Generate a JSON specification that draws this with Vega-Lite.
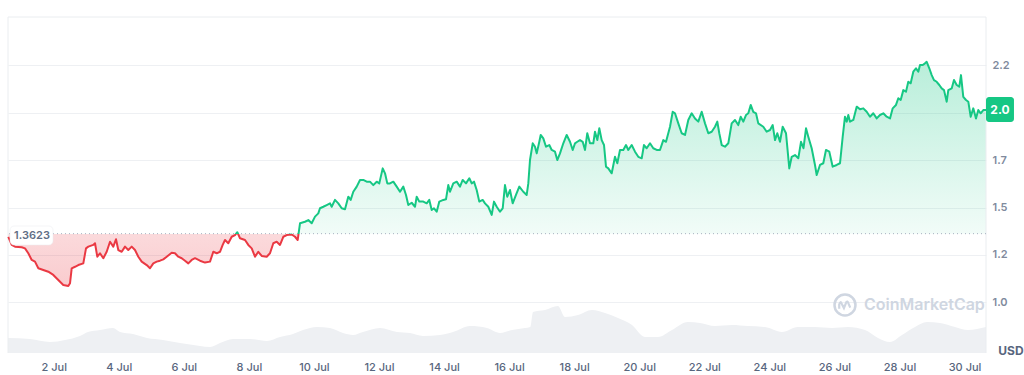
{
  "$schema": "https://vega.github.io/schema/vega-lite/v6.json",
  "width": 978,
  "height": 336,
  "autosize": {"type": "none"},
  "padding": {"left": 8, "top": 17, "right": 38, "bottom": 22},
  "background": "white",
  "config": {"view": {"stroke": null}, "font": "Inter"},
  "datasets": {
    "price": [
      {"d":0.604,"p":1.345},{"d":0.709,"p":1.303},{"d":0.810,"p":1.294},{"d":1.016,"p":1.291},{"d":1.118,"p":1.285},{"d":1.219,"p":1.259},{"d":1.324,"p":1.224},{"d":1.425,"p":1.215},{"d":1.527,"p":1.180},{"d":1.680,"p":1.171},{"d":1.834,"p":1.162},{"d":1.988,"p":1.145},{"d":2.141,"p":1.118},{"d":2.295,"p":1.092},{"d":2.449,"p":1.087},{"d":2.501,"p":1.101},{"d":2.553,"p":1.180},{"d":2.655,"p":1.188},{"d":2.756,"p":1.197},{"d":2.910,"p":1.206},{"d":2.993,"p":1.285},{"d":3.064,"p":1.294},{"d":3.217,"p":1.303},{"d":3.270,"p":1.312},{"d":3.340,"p":1.241},{"d":3.423,"p":1.259},{"d":3.525,"p":1.233},{"d":3.629,"p":1.267},{"d":3.731,"p":1.320},{"d":3.832,"p":1.294},{"d":3.915,"p":1.333},{"d":3.986,"p":1.276},{"d":4.090,"p":1.267},{"d":4.192,"p":1.294},{"d":4.293,"p":1.276},{"d":4.398,"p":1.294},{"d":4.499,"p":1.276},{"d":4.601,"p":1.241},{"d":4.705,"p":1.215},{"d":4.859,"p":1.197},{"d":4.960,"p":1.180},{"d":5.062,"p":1.206},{"d":5.166,"p":1.215},{"d":5.268,"p":1.220},{"d":5.369,"p":1.227},{"d":5.474,"p":1.241},{"d":5.627,"p":1.262},{"d":5.729,"p":1.259},{"d":5.830,"p":1.241},{"d":5.935,"p":1.233},{"d":6.036,"p":1.220},{"d":6.138,"p":1.206},{"d":6.242,"p":1.224},{"d":6.344,"p":1.233},{"d":6.497,"p":1.220},{"d":6.651,"p":1.210},{"d":6.805,"p":1.215},{"d":6.906,"p":1.267},{"d":7.011,"p":1.259},{"d":7.112,"p":1.267},{"d":7.195,"p":1.303},{"d":7.266,"p":1.329},{"d":7.367,"p":1.312},{"d":7.472,"p":1.346},{"d":7.573,"p":1.355},{"d":7.644,"p":1.370},{"d":7.727,"p":1.338},{"d":7.881,"p":1.329},{"d":7.982,"p":1.303},{"d":8.087,"p":1.285},{"d":8.188,"p":1.241},{"d":8.290,"p":1.267},{"d":8.394,"p":1.245},{"d":8.548,"p":1.241},{"d":8.649,"p":1.259},{"d":8.751,"p":1.312},{"d":8.855,"p":1.320},{"d":8.957,"p":1.303},{"d":9.058,"p":1.346},{"d":9.163,"p":1.355},{"d":9.316,"p":1.358},{"d":9.418,"p":1.346},{"d":9.501,"p":1.329},{"d":9.572,"p":1.417},{"d":9.725,"p":1.425},{"d":9.827,"p":1.434},{"d":9.931,"p":1.417},{"d":10.033,"p":1.452},{"d":10.134,"p":1.469},{"d":10.186,"p":1.496},{"d":10.288,"p":1.504},{"d":10.392,"p":1.513},{"d":10.494,"p":1.522},{"d":10.546,"p":1.504},{"d":10.647,"p":1.540},{"d":10.749,"p":1.522},{"d":10.853,"p":1.496},{"d":10.955,"p":1.491},{"d":11.056,"p":1.557},{"d":11.130,"p":1.540},{"d":11.210,"p":1.583},{"d":11.315,"p":1.610},{"d":11.416,"p":1.645},{"d":11.517,"p":1.645},{"d":11.622,"p":1.636},{"d":11.723,"p":1.636},{"d":11.825,"p":1.618},{"d":11.929,"p":1.636},{"d":12.009,"p":1.627},{"d":12.114,"p":1.706},{"d":12.185,"p":1.680},{"d":12.255,"p":1.627},{"d":12.338,"p":1.627},{"d":12.440,"p":1.636},{"d":12.544,"p":1.610},{"d":12.646,"p":1.583},{"d":12.747,"p":1.610},{"d":12.830,"p":1.566},{"d":12.901,"p":1.513},{"d":13.005,"p":1.525},{"d":13.107,"p":1.504},{"d":13.159,"p":1.557},{"d":13.239,"p":1.531},{"d":13.362,"p":1.531},{"d":13.466,"p":1.522},{"d":13.546,"p":1.540},{"d":13.620,"p":1.487},{"d":13.691,"p":1.496},{"d":13.774,"p":1.478},{"d":13.854,"p":1.531},{"d":13.977,"p":1.540},{"d":14.059,"p":1.543},{"d":14.130,"p":1.618},{"d":14.183,"p":1.583},{"d":14.284,"p":1.627},{"d":14.389,"p":1.636},{"d":14.490,"p":1.610},{"d":14.573,"p":1.645},{"d":14.675,"p":1.627},{"d":14.776,"p":1.654},{"d":14.850,"p":1.627},{"d":14.920,"p":1.636},{"d":15.003,"p":1.592},{"d":15.083,"p":1.531},{"d":15.187,"p":1.540},{"d":15.259,"p":1.522},{"d":15.360,"p":1.504},{"d":15.465,"p":1.461},{"d":15.535,"p":1.531},{"d":15.618,"p":1.504},{"d":15.720,"p":1.478},{"d":15.803,"p":1.496},{"d":15.873,"p":1.618},{"d":15.944,"p":1.557},{"d":16.027,"p":1.592},{"d":16.110,"p":1.522},{"d":16.211,"p":1.566},{"d":16.313,"p":1.610},{"d":16.436,"p":1.583},{"d":16.540,"p":1.566},{"d":16.590,"p":1.627},{"d":16.642,"p":1.750},{"d":16.725,"p":1.838},{"d":16.796,"p":1.820},{"d":16.848,"p":1.785},{"d":16.928,"p":1.846},{"d":16.971,"p":1.882},{"d":17.051,"p":1.864},{"d":17.134,"p":1.820},{"d":17.235,"p":1.829},{"d":17.309,"p":1.803},{"d":17.410,"p":1.794},{"d":17.481,"p":1.750},{"d":17.564,"p":1.785},{"d":17.666,"p":1.838},{"d":17.770,"p":1.882},{"d":17.872,"p":1.846},{"d":17.955,"p":1.803},{"d":18.025,"p":1.838},{"d":18.096,"p":1.846},{"d":18.179,"p":1.855},{"d":18.262,"p":1.846},{"d":18.333,"p":1.803},{"d":18.403,"p":1.891},{"d":18.486,"p":1.838},{"d":18.588,"p":1.838},{"d":18.640,"p":1.899},{"d":18.711,"p":1.855},{"d":18.772,"p":1.917},{"d":18.846,"p":1.855},{"d":18.917,"p":1.829},{"d":18.978,"p":1.715},{"d":19.049,"p":1.706},{"d":19.154,"p":1.680},{"d":19.255,"p":1.767},{"d":19.326,"p":1.733},{"d":19.409,"p":1.803},{"d":19.510,"p":1.803},{"d":19.593,"p":1.829},{"d":19.664,"p":1.803},{"d":19.768,"p":1.829},{"d":19.870,"p":1.794},{"d":19.971,"p":1.767},{"d":20.076,"p":1.759},{"d":20.146,"p":1.829},{"d":20.229,"p":1.812},{"d":20.331,"p":1.838},{"d":20.432,"p":1.812},{"d":20.537,"p":1.803},{"d":20.638,"p":1.803},{"d":20.740,"p":1.855},{"d":20.823,"p":1.846},{"d":20.946,"p":1.925},{"d":21.029,"p":2.004},{"d":21.099,"p":1.996},{"d":21.201,"p":1.943},{"d":21.305,"p":1.891},{"d":21.407,"p":1.882},{"d":21.508,"p":1.961},{"d":21.613,"p":1.996},{"d":21.714,"p":1.969},{"d":21.816,"p":1.952},{"d":21.920,"p":2.004},{"d":22.022,"p":1.943},{"d":22.123,"p":1.891},{"d":22.228,"p":1.899},{"d":22.329,"p":1.925},{"d":22.400,"p":1.952},{"d":22.461,"p":1.891},{"d":22.535,"p":1.829},{"d":22.636,"p":1.820},{"d":22.738,"p":1.838},{"d":22.842,"p":1.943},{"d":22.944,"p":1.961},{"d":23.045,"p":1.934},{"d":23.119,"p":1.978},{"d":23.199,"p":1.952},{"d":23.282,"p":1.987},{"d":23.353,"p":1.996},{"d":23.427,"p":2.040},{"d":23.506,"p":2.004},{"d":23.589,"p":1.996},{"d":23.660,"p":1.943},{"d":23.814,"p":1.925},{"d":23.918,"p":1.899},{"d":24.020,"p":1.908},{"d":24.103,"p":1.934},{"d":24.174,"p":1.855},{"d":24.244,"p":1.891},{"d":24.327,"p":1.846},{"d":24.410,"p":1.925},{"d":24.512,"p":1.891},{"d":24.613,"p":1.706},{"d":24.687,"p":1.767},{"d":24.788,"p":1.776},{"d":24.890,"p":1.759},{"d":24.973,"p":1.846},{"d":25.050,"p":1.812},{"d":25.127,"p":1.917},{"d":25.197,"p":1.873},{"d":25.301,"p":1.812},{"d":25.403,"p":1.724},{"d":25.455,"p":1.671},{"d":25.557,"p":1.724},{"d":25.658,"p":1.733},{"d":25.741,"p":1.803},{"d":25.843,"p":1.794},{"d":25.947,"p":1.715},{"d":26.070,"p":1.724},{"d":26.172,"p":1.733},{"d":26.255,"p":1.873},{"d":26.325,"p":1.978},{"d":26.378,"p":1.952},{"d":26.427,"p":1.987},{"d":26.479,"p":1.952},{"d":26.581,"p":1.961},{"d":26.685,"p":2.031},{"d":26.787,"p":2.017},{"d":26.888,"p":2.022},{"d":26.992,"p":2.004},{"d":27.094,"p":1.978},{"d":27.195,"p":1.996},{"d":27.300,"p":1.969},{"d":27.401,"p":1.987},{"d":27.503,"p":1.996},{"d":27.607,"p":1.978},{"d":27.709,"p":1.969},{"d":27.792,"p":2.022},{"d":27.893,"p":2.040},{"d":27.964,"p":2.075},{"d":28.038,"p":2.066},{"d":28.118,"p":2.118},{"d":28.201,"p":2.110},{"d":28.271,"p":2.162},{"d":28.345,"p":2.154},{"d":28.425,"p":2.215},{"d":28.508,"p":2.233},{"d":28.579,"p":2.215},{"d":28.631,"p":2.250},{"d":28.714,"p":2.250},{"d":28.785,"p":2.259},{"d":28.837,"p":2.267},{"d":28.917,"p":2.233},{"d":28.991,"p":2.197},{"d":29.061,"p":2.171},{"d":29.144,"p":2.162},{"d":29.224,"p":2.145},{"d":29.298,"p":2.127},{"d":29.369,"p":2.118},{"d":29.452,"p":2.057},{"d":29.501,"p":2.118},{"d":29.605,"p":2.127},{"d":29.676,"p":2.171},{"d":29.759,"p":2.145},{"d":29.839,"p":2.136},{"d":29.891,"p":2.197},{"d":29.962,"p":2.083},{"d":30.045,"p":2.066},{"d":30.116,"p":2.057},{"d":30.190,"p":1.978},{"d":30.269,"p":2.022},{"d":30.352,"p":1.969},{"d":30.423,"p":2.013},{"d":30.497,"p":1.996},{"d":30.577,"p":2.013},{"d":30.660,"p":2.013}
    ],
    "volume": [
      {"d":0.595,"vol":15},{"d":1.271,"vol":14},{"d":1.886,"vol":11},{"d":2.347,"vol":13},{"d":2.808,"vol":17},{"d":3.054,"vol":21},{"d":3.423,"vol":23},{"d":3.823,"vol":25},{"d":4.038,"vol":21},{"d":4.438,"vol":19},{"d":4.868,"vol":15},{"d":5.360,"vol":13},{"d":5.883,"vol":10},{"d":6.497,"vol":7},{"d":6.805,"vol":6},{"d":7.112,"vol":10},{"d":7.512,"vol":14},{"d":8.034,"vol":14},{"d":8.557,"vol":12},{"d":8.957,"vol":16},{"d":9.356,"vol":19},{"d":9.664,"vol":23},{"d":10.094,"vol":26},{"d":10.494,"vol":25},{"d":10.893,"vol":20},{"d":11.201,"vol":18},{"d":11.508,"vol":21},{"d":12.031,"vol":25},{"d":12.553,"vol":21},{"d":12.953,"vol":20},{"d":13.353,"vol":17},{"d":13.875,"vol":18},{"d":14.275,"vol":21},{"d":14.798,"vol":27},{"d":15.320,"vol":25},{"d":15.720,"vol":20},{"d":16.089,"vol":23},{"d":16.488,"vol":25},{"d":16.650,"vol":26},{"d":16.734,"vol":41},{"d":17.103,"vol":43},{"d":17.503,"vol":47},{"d":17.718,"vol":36},{"d":18.117,"vol":38},{"d":18.548,"vol":43},{"d":18.948,"vol":40},{"d":19.347,"vol":35},{"d":19.778,"vol":28},{"d":20.177,"vol":16},{"d":20.577,"vol":16},{"d":21.007,"vol":23},{"d":21.499,"vol":31},{"d":21.868,"vol":30},{"d":22.329,"vol":27},{"d":22.852,"vol":28},{"d":23.343,"vol":27},{"d":23.866,"vol":26},{"d":24.389,"vol":21},{"d":24.880,"vol":26},{"d":25.403,"vol":26},{"d":25.925,"vol":25},{"d":26.418,"vol":26},{"d":26.940,"vol":23},{"d":27.340,"vol":15},{"d":27.709,"vol":11},{"d":28.078,"vol":18},{"d":28.477,"vol":26},{"d":28.846,"vol":31},{"d":29.246,"vol":30},{"d":29.707,"vol":26},{"d":30.107,"vol":23},{"d":30.660,"vol":26}
    ]
  },
  "layer": [
    {
      "data": {"name": "volume"},
      "mark": {"type": "area", "color": "#eef0f3", "interpolate": "monotone", "opacity": 1},
      "encoding": {
        "x": {"field": "d", "type": "quantitative", "scale": {"domain": [0.595, 30.66], "nice": false, "zero": false},
          "axis": {"values": [2,4,6,8,10,12,14,16,18,20,22,24,26,28,30], "labelExpr": "datum.value + ' Jul'", "grid": false, "ticks": false, "tickSize": 0, "domain": false, "labelPadding": 8, "labelFontSize": 11, "labelFontWeight": 500, "labelColor": "#58667e", "labelFont": "Inter", "title": null, "labelFlush": false}},
        "y": {"field": "vol", "type": "quantitative", "scale": {"domain": [0, 336], "nice": false}, "axis": null}
      }
    },
    {
      "layer": [
        {
          "data": {"name": "price"},
          "mark": {"type": "area", "opacity": 1, "fill": {"gradient": "linear", "x1": 0, "y1": 0, "x2": 0, "y2": 1, "stops": [
            {"offset": 0, "color": "rgba(22,199,132,0.30)"},
            {"offset": 0.7667, "color": "rgba(22,199,132,0.06)"},
            {"offset": 0.7667, "color": "rgba(234,57,67,0.19)"},
            {"offset": 1, "color": "rgba(234,57,67,0.26)"}
          ]}},
          "encoding": {
            "x": {"field": "d", "type": "quantitative", "scale": {"domain": [0.595, 30.66], "nice": false, "zero": false},
              "axis": {"values": [2,4,6,8,10,12,14,16,18,20,22,24,26,28,30], "labelExpr": "datum.value + ' Jul'", "grid": false, "ticks": false, "tickSize": 0, "domain": false, "labelPadding": 8, "labelFontSize": 11, "labelFontWeight": 500, "labelColor": "#58667e", "labelFont": "Inter", "title": null, "labelFlush": false}},
            "y": {"field": "p", "type": "quantitative", "scale": {"domain": [0.734, 2.503], "nice": false, "zero": false},
              "axis": {"orient": "right", "values": [1, 1.25, 1.5, 1.75, 2, 2.25], "labelExpr": "datum.value == 2 ? '' : format(floor(datum.value*10+0.0001)/10, '.1f')", "grid": true, "gridColor": "#eef0f3", "ticks": false, "tickSize": 0, "domain": false, "labelPadding": 6, "labelFontSize": 11, "labelFontWeight": 600, "labelColor": "#808a9d", "labelFont": "Inter", "title": null}},
            "y2": {"datum": 1.3623}
          }
        },
        {
          "data": {"values": [{}]},
          "mark": {"type": "rule", "color": "#eaedf0", "strokeWidth": 1},
          "encoding": {"y": {"datum": 2.503, "scale": {"domain": [0.734, 2.503], "nice": false, "zero": false}}}
        },
        {
          "data": {"values": [{"e": 0.595}, {"e": 30.66}]},
          "mark": {"type": "rule", "color": "#eaedf0", "strokeWidth": 1},
          "encoding": {"x": {"field": "e", "type": "quantitative", "scale": {"domain": [0.595, 30.66], "nice": false, "zero": false}}}
        },
        {
          "data": {"values": [{}]},
          "mark": {"type": "rule", "color": "#a7b0bf", "strokeWidth": 1, "strokeDash": [1, 3]},
          "encoding": {"y": {"datum": 1.3623, "scale": {"domain": [0.734, 2.503], "nice": false, "zero": false}}}
        },
        {
          "data": {"name": "price"},
          "mark": {"type": "line", "strokeWidth": 2, "strokeJoin": "round", "stroke": {"gradient": "linear", "x1": 0, "y1": 0, "x2": 0, "y2": 1, "stops": [
            {"offset": 0, "color": "#16c784"},
            {"offset": 0.7667, "color": "#16c784"},
            {"offset": 0.7667, "color": "#ea3943"},
            {"offset": 1, "color": "#ea3943"}
          ]}},
          "encoding": {
            "x": {"field": "d", "type": "quantitative", "scale": {"domain": [0.595, 30.66], "nice": false, "zero": false}},
            "y": {"field": "p", "type": "quantitative", "scale": {"domain": [0.734, 2.503], "nice": false, "zero": false}}
          }
        },
        {
          "data": {"values": [{}]},
          "mark": {"type": "rect", "fill": "white", "stroke": "#e8ebef", "strokeWidth": 0.5, "cornerRadius": 4},
          "encoding": {
            "x": {"datum": 0.657, "scale": {"domain": [0.595, 30.66], "nice": false, "zero": false}},
            "x2": {"datum": 1.979},
            "y": {"datum": 1.4026, "scale": {"domain": [0.734, 2.503], "nice": false, "zero": false}},
            "y2": {"datum": 1.3026}
          }
        },
        {
          "data": {"values": [{}]},
          "mark": {"type": "text", "align": "center", "baseline": "middle", "fontSize": 11, "fontWeight": 600, "color": "#616e85", "font": "Inter"},
          "encoding": {
            "x": {"datum": 1.333, "scale": {"domain": [0.595, 30.66], "nice": false, "zero": false}},
            "y": {"datum": 1.3526, "scale": {"domain": [0.734, 2.503], "nice": false, "zero": false}},
            "text": {"value": "1.3623"}
          }
        },
        {
          "data": {"values": [{}]},
          "mark": {"type": "rect", "fill": "#16c784", "cornerRadius": 3},
          "encoding": {
            "x": {"datum": 30.66, "scale": {"domain": [0.595, 30.66], "nice": false, "zero": false}},
            "x2": {"datum": 31.52},
            "y": {"datum": 2.0816, "scale": {"domain": [0.734, 2.503], "nice": false, "zero": false}},
            "y2": {"datum": 1.950}
          }
        },
        {
          "data": {"name": "price"},
          "transform": [{"filter": "datum.d >= 30.66"}],
          "mark": {"type": "text", "align": "center", "baseline": "middle", "fontSize": 12, "fontWeight": 700, "color": "white", "font": "Inter"},
          "encoding": {
            "x": {"datum": 31.09, "scale": {"domain": [0.595, 30.66], "nice": false, "zero": false}},
            "y": {"field": "p", "type": "quantitative", "scale": {"domain": [0.734, 2.503], "nice": false, "zero": false}},
            "text": {"field": "p", "type": "quantitative", "format": ".1f"}
          }
        },
        {
          "data": {"values": [{}]},
          "mark": {"type": "text", "align": "center", "baseline": "middle", "fontSize": 12, "fontWeight": 700, "color": "#58667e", "font": "Inter"},
          "encoding": {
            "x": {"datum": 31.428, "scale": {"domain": [0.595, 30.66], "nice": false, "zero": false}},
            "y": {"datum": 0.7463, "scale": {"domain": [0.734, 2.503], "nice": false, "zero": false}},
            "text": {"value": "USD"}
          }
        },
        {
          "data": {"values": [{}]},
          "mark": {"type": "text", "align": "left", "baseline": "middle", "fontSize": 16, "fontWeight": 600, "color": "#cfd6e1", "font": "Inter"},
          "encoding": {
            "x": {"datum": 26.909, "scale": {"domain": [0.595, 30.66], "nice": false, "zero": false}},
            "y": {"datum": 0.9868, "scale": {"domain": [0.734, 2.503], "nice": false, "zero": false}},
            "text": {"value": "CoinMarketCap"}
          }
        },
        {
          "data": {"values": [{}]},
          "mark": {"type": "point", "shape": "circle", "size": 440, "filled": false, "stroke": "#cfd6e1", "strokeWidth": 2.5, "opacity": 1},
          "encoding": {
            "x": {"datum": 26.325, "scale": {"domain": [0.595, 30.66], "nice": false, "zero": false}},
            "y": {"datum": 0.9868, "scale": {"domain": [0.734, 2.503], "nice": false, "zero": false}}
          }
        },
        {
          "data": {"values": [{}]},
          "mark": {"type": "point", "shape": "M-0.55,0.35L-0.55,-0.05Q-0.45,-0.45 -0.3,-0.1L-0.1,0.3L0.1,-0.2Q0.22,-0.5 0.35,-0.1L0.5,0.25", "size": 440, "filled": false, "stroke": "#cfd6e1", "strokeWidth": 2.2, "opacity": 1},
          "encoding": {
            "x": {"datum": 26.325, "scale": {"domain": [0.595, 30.66], "nice": false, "zero": false}},
            "y": {"datum": 0.9868, "scale": {"domain": [0.734, 2.503], "nice": false, "zero": false}}
          }
        }
      ]
    }
  ],
  "resolve": {"scale": {"y": "independent"}}
}
